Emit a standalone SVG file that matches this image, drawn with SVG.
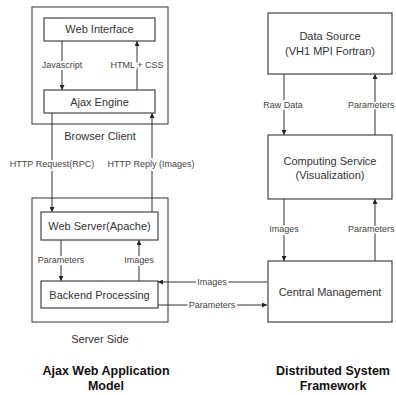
<svg xmlns="http://www.w3.org/2000/svg" width="396" height="395" viewBox="0 0 396 395">
<defs>
<marker id="ah" viewBox="0 0 8 8" refX="8" refY="4" markerWidth="5" markerHeight="5" orient="auto" markerUnits="userSpaceOnUse">
<path d="M0,0 L8,4 L0,8 z" fill="#222"/>
</marker>
<style>
.box{fill:#fff;stroke:#444;stroke-width:1.2}
.grp{fill:none;stroke:#555;stroke-width:1.2}
.n{font-family:"Liberation Sans",Arial,sans-serif;font-size:11px;fill:#333;text-anchor:middle}
.l{font-family:"Liberation Sans",Arial,sans-serif;font-size:9px;fill:#444;text-anchor:middle;paint-order:stroke;stroke:#fff;stroke-width:4px;stroke-linejoin:round}
.r{text-anchor:end;stroke-width:3px}
.t{font-family:"Liberation Sans",Arial,sans-serif;font-size:12.5px;font-weight:bold;fill:#111;text-anchor:middle}
.c{fill:none;stroke:#333;stroke-width:1;marker-end:url(#ah)}
</style>
</defs>
<rect width="396" height="395" fill="#fff"/>
<g id="browser-client">
<rect class="grp" x="32" y="7" width="136" height="117"/>
<text class="n" x="100" y="140">Browser Client</text>
</g>
<g id="server-side">
<rect class="grp" x="32" y="198" width="136" height="124"/>
<text class="n" x="100" y="343">Server Side</text>
</g>
<g id="connectors">
<path class="c" d="M62,41 V90"/>
<path class="c" d="M137,90 V41"/>
<path class="c" d="M52,113 V212"/>
<path class="c" d="M152,212 V113"/>
<path class="c" d="M61,240 V281"/>
<path class="c" d="M139,281 V240"/>
<path class="c" d="M267,282 H158"/>
<path class="c" d="M158,305 H267"/>
<path class="c" d="M284,74 V135"/>
<path class="c" d="M375,135 V74"/>
<path class="c" d="M284,199 V261"/>
<path class="c" d="M375,261 V199"/>
<text class="l" x="62" y="68">Javascript</text>
<text class="l" x="137" y="68">HTML + CSS</text>
<text class="l" x="52" y="167">HTTP Request(RPC)</text>
<text class="l" x="151" y="167">HTTP Reply (Images)</text>
<text class="l" x="61" y="263">Parameters</text>
<text class="l" x="139" y="263">Images</text>
<text class="l" x="212" y="285">Images</text>
<text class="l" x="212" y="308">Parameters</text>
<text class="l" x="283" y="108">Raw Data</text>
<text class="l r" x="394.5" y="108">Parameters</text>
<text class="l" x="284" y="232">Images</text>
<text class="l r" x="394.5" y="232">Parameters</text>
</g>
<g id="web-interface">
<rect class="box" x="44" y="18" width="111" height="23"/>
<text class="n" x="99.5" y="33">Web Interface</text>
</g>
<g id="ajax-engine">
<rect class="box" x="44" y="90" width="111" height="23"/>
<text class="n" x="99.5" y="105.5">Ajax Engine</text>
</g>
<g id="web-server">
<rect class="box" x="41" y="212" width="117" height="28"/>
<text class="n" x="99.5" y="230">Web Server(Apache)</text>
</g>
<g id="backend-processing">
<rect class="box" x="41" y="281" width="117" height="27"/>
<text class="n" x="99.5" y="298.5">Backend Processing</text>
</g>
<g id="data-source">
<rect class="box" x="268" y="13" width="124" height="61"/>
<text class="n" x="330" y="40">Data Source</text>
<text class="n" x="330" y="55">(VH1 MPI Fortran)</text>
</g>
<g id="computing-service">
<rect class="box" x="268" y="135" width="124" height="64"/>
<text class="n" x="330" y="165">Computing Service</text>
<text class="n" x="330" y="179">(Visualization)</text>
</g>
<g id="central-management">
<rect class="box" x="268" y="261" width="124" height="61"/>
<text class="n" x="330" y="296">Central Management</text>
</g>
<g id="titles">
<text class="t" x="106" y="375">Ajax Web Application</text>
<text class="t" x="106" y="390">Model</text>
<text class="t" x="333" y="375">Distributed System</text>
<text class="t" x="333" y="390">Framework</text>
</g>
</svg>
